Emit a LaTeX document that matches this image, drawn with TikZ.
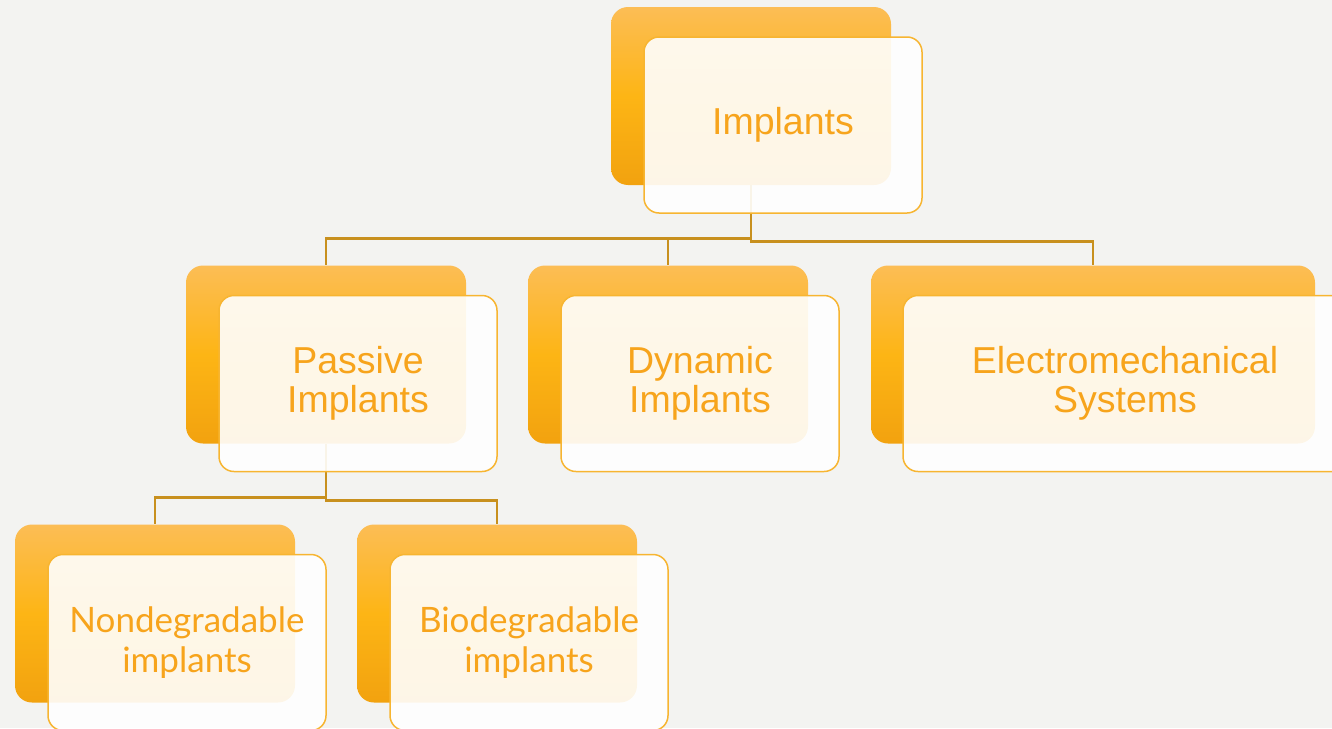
\documentclass[tikz,border=0pt]{standalone}
\usepackage{fontspec}
\setmainfont{Liberation Sans}
\newfontfamily\gillfont{Lato}
\usepackage{xcolor}
\definecolor{pagebg}{HTML}{F3F3F1}
\definecolor{boxtop}{HTML}{FCBD55}
\definecolor{boxmid}{HTML}{FDB515}
\definecolor{boxbot}{HTML}{F2A20F}
\definecolor{boxline}{HTML}{F7B531}
\definecolor{txtorange}{HTML}{F7A41C}
\definecolor{linkgold}{HTML}{C8901E}

\begin{document}
\begin{tikzpicture}[
      x=1pt, y=-1pt,
      back/.style={rounded corners=17pt, minimum width=280pt, minimum height=178pt,
        top color=boxtop, bottom color=boxbot, middle color=boxmid, inner sep=0pt},
      front/.style={rounded corners=15pt, minimum width=278pt, minimum height=176pt,
        draw=boxline, line width=1.5pt, fill=white, fill opacity=0.9, text opacity=1,
        text=txtorange, align=center, inner sep=0pt,
        font=\fontsize{37.5}{39}\selectfont},
      gill/.style={font=\gillfont\fontsize{35}{40}\selectfont},
      link/.style={draw=linkgold, line width=2.6pt}
    ]
    \useasboundingbox[fill=pagebg] (0,0) rectangle (1332,728);

    % back boxes
    \node[back] (imp-b) at (751,96) {};
    \node[back] (pas-b) at (326,354.5) {};
    \node[back] (dyn-b) at (668,354.5) {};
    \node[back, minimum width=444pt] (ele-b) at (1093,354.5) {};
    \node[back] (non-b) at (155,613.5) {};
    \node[back] (bio-b) at (497,613.5) {};

    % connectors
    \draw[link] (imp-b.south) -- ++(0,53) coordinate (imp-l) -| (pas-b.north);
    \draw[link] (imp-l) -| (dyn-b.north);
    \draw[link] (imp-b.south) -- ++(0,56) -| (ele-b.north);
    \draw[link] (pas-b.south) -- ++(0,54) -| (non-b.north);
    \draw[link] (pas-b.south) -- ++(0,57) -| (bio-b.north);

    % front boxes
    \node[front] (imp) at ([shift={(32,29)}]imp-b.center) {Implants};
    \node[front] (pas) at ([shift={(32,29)}]pas-b.center) {Passive\\Implants};
    \node[front] (dyn) at ([shift={(32,29)}]dyn-b.center) {Dynamic\\Implants};
    \node[front, minimum width=444pt] (ele) at ([shift={(32,29)}]ele-b.center) {Electromechanical\\Systems};
    \node[front, gill] (non) at ([shift={(32,29)}]non-b.center) {Nondegradable\\implants};
    \node[front, gill] (bio) at ([shift={(32,29)}]bio-b.center) {Biodegradable\\implants};
\end{tikzpicture}
\end{document}
